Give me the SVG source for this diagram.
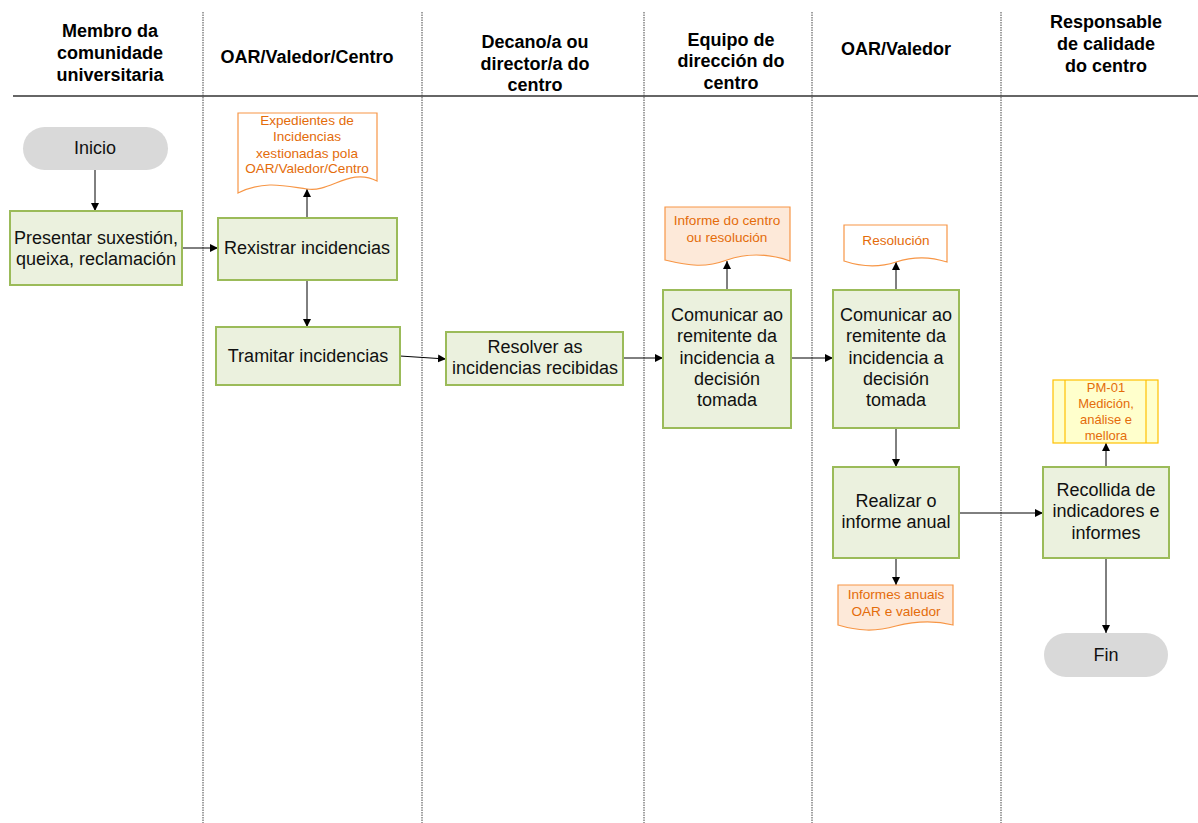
<svg xmlns="http://www.w3.org/2000/svg" width="1198" height="823" viewBox="0 0 1198 823">
<style>
text{font-family:"Liberation Sans",Arial,sans-serif;text-anchor:middle}
.hd{font-size:18px;font-weight:bold;fill:#000}
.t{font-size:18px;fill:#111}
.o{font-size:13.6px;fill:#e46c0a}
.p{font-size:13px;fill:#e46c0a}
.box{fill:#ebf1de;stroke:#9bbb59;stroke-width:2}
.term{fill:#d9d9d9}
.doc{stroke:#f79646;stroke-width:1.2}
.lane{stroke:#444;stroke-width:1;stroke-dasharray:1.5,1}
.c{fill:none;stroke:#000;stroke-width:1;marker-end:url(#ah)}
</style>
<defs>
<marker id="ah" viewBox="0 0 10 10" refX="10" refY="5" markerWidth="8" markerHeight="8" markerUnits="userSpaceOnUse" orient="auto"><path d="M0,0 L10,5 L0,10 z" fill="#000"/></marker>
</defs>
<rect width="1198" height="823" fill="#fff"/>
<g id="lanes">
<line x1="13" y1="96" x2="1198" y2="96" stroke="#333" stroke-width="1.3"/>
<line class="lane" x1="203" y1="12" x2="203" y2="823" stroke="#777" stroke-width="1.6"/>
<line class="lane" x1="422" y1="12" x2="422" y2="823"/>
<line class="lane" x1="644" y1="12" x2="644" y2="823"/>
<line class="lane" x1="812" y1="12" x2="812" y2="823"/>
<line class="lane" x1="1001" y1="12" x2="1001" y2="823"/>
<text class="hd" x="110" y="37">Membro da</text>
<text class="hd" x="110" y="59">comunidade</text>
<text class="hd" x="110" y="81">universitaria</text>
<text class="hd" x="307" y="63">OAR/Valedor/Centro</text>
<text class="hd" x="535" y="48">Decano/a ou</text>
<text class="hd" x="535" y="70">director/a do</text>
<text class="hd" x="535" y="91">centro</text>
<text class="hd" x="731" y="46">Equipo de</text>
<text class="hd" x="731" y="67">dirección do</text>
<text class="hd" x="731" y="89">centro</text>
<text class="hd" x="896" y="55">OAR/Valedor</text>
<text class="hd" x="1106" y="28">Responsable</text>
<text class="hd" x="1106" y="50">de calidade</text>
<text class="hd" x="1106" y="72">do centro</text>
</g>
<g id="connectors">
<path class="c" d="M95,170 V211"/>
<path class="c" d="M182,248 H218"/>
<path class="c" d="M307,218 V189"/>
<path class="c" d="M307,280 V327"/>
<path class="c" d="M400,356 L446,359"/>
<path class="c" d="M623,358 H663"/>
<path class="c" d="M727,290 V261"/>
<path class="c" d="M791,358 H833"/>
<path class="c" d="M896,290 V262"/>
<path class="c" d="M896,428 V467"/>
<path class="c" d="M896,558 V585"/>
<path class="c" d="M959,513 H1043"/>
<path class="c" d="M1106,467 V443"/>
<path class="c" d="M1106,558 V633"/>
</g>
<g id="inicio"><rect class="term" x="23" y="127" width="145" height="43" rx="21.5"/><text class="t" x="95" y="154">Inicio</text></g>
<g id="presentar"><rect class="box" x="10" y="211" width="172" height="74"/><text class="t" x="96" y="244">Presentar suxestión,</text><text class="t" x="96" y="265">queixa, reclamación</text></g>
<g id="rexistrar"><rect class="box" x="218" y="218" width="179" height="62"/><text class="t" x="307" y="254">Rexistrar incidencias</text></g>
<g id="doc1"><path class="doc" fill="#fff" d="M238,113 H377 V181 C350,167 330,193 307,189 C285,186 265,180 238,193 Z"/><text class="o" x="307" y="125">Expedientes de</text><text class="o" x="307" y="141">Incidencias</text><text class="o" x="307" y="158">xestionadas pola</text><text class="o" x="307" y="173">OAR/Valedor/Centro</text></g>
<g id="tramitar"><rect class="box" x="216" y="327" width="184" height="58"/><text class="t" x="308" y="362">Tramitar incidencias</text></g>
<g id="resolver"><rect class="box" x="446" y="332" width="177" height="53"/><text class="t" x="535" y="353">Resolver as</text><text class="t" x="535" y="374">incidencias recibidas</text></g>
<g id="comunicar1"><rect class="box" x="663" y="290" width="128" height="138"/><text class="t" x="727" y="321">Comunicar ao</text><text class="t" x="727" y="342">remitente da</text><text class="t" x="727" y="364">incidencia a</text><text class="t" x="727" y="385">decisión</text><text class="t" x="727" y="406">tomada</text></g>
<g id="doc2"><path class="doc" fill="#fde9d9" d="M665,207 H790 V261 C770,254 750,252 727,260 C705,268 690,266 665,260 Z"/><text class="o" x="727" y="225">Informe do centro</text><text class="o" x="727" y="242">ou resolución</text></g>
<g id="comunicar2"><rect class="box" x="833" y="290" width="126" height="138"/><text class="t" x="896" y="321">Comunicar ao</text><text class="t" x="896" y="342">remitente da</text><text class="t" x="896" y="364">incidencia a</text><text class="t" x="896" y="385">decisión</text><text class="t" x="896" y="406">tomada</text></g>
<g id="doc3"><path class="doc" fill="#fff" d="M844,225 H947 V262 C930,257 915,256 896,262 C878,268 862,267 844,261 Z"/><text class="o" x="896" y="245">Resolución</text></g>
<g id="realizar"><rect class="box" x="833" y="467" width="126" height="91"/><text class="t" x="896" y="507">Realizar o</text><text class="t" x="896" y="528">informe anual</text></g>
<g id="doc4"><path class="doc" fill="#fde9d9" d="M838,585 H953 V625 C937,621 920,620 896,626 C875,632 858,631 838,625 Z"/><text class="o" x="896" y="599">Informes anuais</text><text class="o" x="896" y="616">OAR e valedor</text></g>
<g id="recollida"><rect class="box" x="1043" y="467" width="126" height="91"/><text class="t" x="1106" y="496">Recollida de</text><text class="t" x="1106" y="517">indicadores e</text><text class="t" x="1106" y="539">informes</text></g>
<g id="pm01"><rect x="1053" y="380" width="105" height="63" fill="#ffffcc" stroke="#ffc000" stroke-width="1.2"/><line x1="1065" y1="380" x2="1065" y2="443" stroke="#ffc000" stroke-width="1.2"/><line x1="1146" y1="380" x2="1146" y2="443" stroke="#ffc000" stroke-width="1.2"/><text class="p" x="1106" y="392">PM-01</text><text class="p" x="1106" y="408">Medición,</text><text class="p" x="1106" y="424">análise e</text><text class="p" x="1106" y="440">mellora</text></g>
<g id="fin"><rect class="term" x="1044" y="633" width="124" height="44" rx="22"/><text class="t" x="1106" y="661">Fin</text></g>
</svg>
